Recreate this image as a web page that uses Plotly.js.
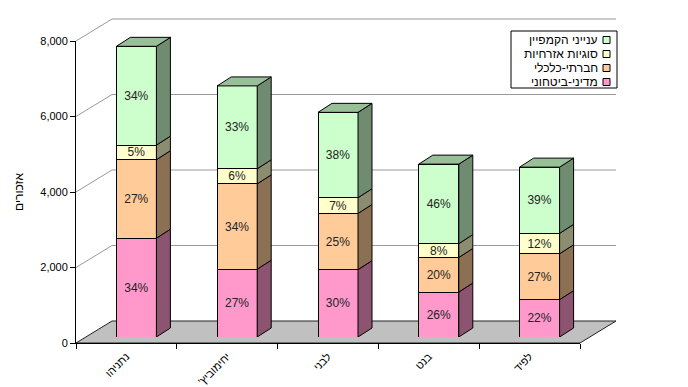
<!DOCTYPE html>
<html><head><meta charset="utf-8">
<script src="https://cdn.plot.ly/plotly-3.0.1.min.js"></script>
<style>html,body{margin:0;padding:0;background:#fff}#chart{width:688px;height:387px}</style>
</head><body><div id="chart"></div>
<script>
// ---- data ----
const candidates = ["נתניהו", "יחימוביץ'\u200F", "לבני", "בנט", "לפיד"];
const seriesNames = ["מדיני-ביטחוני", "חברתי-כלכלי", "סוגיות אזרחיות", "ענייני הקמפיין"];
const securityVals = [2618, 1796, 1785, 1191, 990];
const socioEconVals = [2079, 2261, 1488, 916, 1215];
const civilVals = [385, 399, 417, 366, 540];
const campaignVals = [2618, 2195, 2261, 2107, 1755];
const yTickVals = [0, 2000, 4000, 6000, 8000];
const yTitle = "אזכורים";

// ---- styles ----
const frontColors = ["#FF99CC", "#FFCC99", "#FFFFCC", "#CCFFCC"];
const FONT = "Liberation Sans, Arial, sans-serif";

// ---- geometry (pixels) ----
const PL = 76, PR = 616, PT = 19, PB = 343;
const plotW = PR - PL, plotH = PB - PT;
const FRONT_W = 504, FRONT_H = 302;
const DEPTH_X = 36, DEPTH_Y = 22;
const BAR_DX = 10, BAR_DY = 6;
const BAR_DEPTH_X = 14, BAR_DEPTH_Y = 9;
const BAR_W_PX = 40;
const YMAX = 8000;
const nCat = candidates.length;
const pxPerX = FRONT_W / nCat, pxPerY = FRONT_H / YMAX;
const fx = px => (px - PL) / plotW;
const fy = py => (PB - py) / plotH;

function shade(hex, f) {
  const n = parseInt(hex.slice(1), 16);
  const r = Math.round(((n >> 16) & 255) * f), g = Math.round(((n >> 8) & 255) * f), b = Math.round((n & 255) * f);
  return `rgb(${r},${g},${b})`;
}

const series = [securityVals, socioEconVals, civilVals, campaignVals];
const totals = candidates.map((_, i) => series.reduce((s, arr) => s + arr[i], 0));
const xIdx = candidates.map((_, i) => i);
const barW = BAR_W_PX / pxPerX;

const traces = [];
// invisible trace to build the front category axis
traces.push({type: 'scatter', x: candidates, y: totals.map(() => 0), xaxis: 'x', yaxis: 'y',
  mode: 'markers', marker: {opacity: 0}, hoverinfo: 'skip', showlegend: false});

series.forEach((vals, k) => {
  traces.push({
    type: 'bar', x: xIdx, y: vals, xaxis: 'x2', yaxis: 'y2', name: seriesNames[k],
    width: barW, marker: {color: frontColors[k], line: {color: '#000', width: 1}},
    text: vals.map((v, i) => Math.round(v / totals[i] * 100) + '%'),
    textposition: 'inside', insidetextanchor: 'middle', textangle: 0, constraintext: 'none',
    textfont: {family: FONT, size: 12, color: '#222'}, hoverinfo: 'skip', showlegend: false
  });
});

const shapes = [];
// floor
shapes.push({type: 'path', xref: 'paper', yref: 'paper', layer: 'below',
  path: `M ${fx(PL)},${fy(PB)} L ${fx(PL + FRONT_W)},${fy(PB)} L ${fx(PL + FRONT_W + DEPTH_X)},${fy(PB - DEPTH_Y)} L ${fx(PL + DEPTH_X)},${fy(PB - DEPTH_Y)} Z`,
  fillcolor: '#C0C0C0', line: {color: '#222', width: 1}});
// back wall gridlines + diagonals from front axis
yTickVals.forEach(v => {
  if (v === 0) return;
  const yF = PB - v * pxPerY;
  shapes.push({type: 'line', xref: 'paper', yref: 'paper', layer: 'below',
    x0: fx(PL), y0: fy(yF), x1: fx(PL + DEPTH_X), y1: fy(yF - DEPTH_Y),
    line: {color: '#999', width: 1}});
  shapes.push({type: 'line', xref: 'paper', yref: 'paper', layer: 'below',
    x0: fx(PL + DEPTH_X), y0: fy(yF - DEPTH_Y), x1: fx(PR), y1: fy(yF - DEPTH_Y),
    line: {color: '#999', width: 1}});
});
// 3D faces of bars
const ddx = BAR_DEPTH_X / pxPerX, ddy = BAR_DEPTH_Y / pxPerY;
xIdx.forEach(i => {
  let base = 0;
  const L = i - barW / 2, R = i + barW / 2;
  series.forEach((vals, k) => {
    const top = base + vals[i];
    shapes.push({type: 'path', xref: 'x2', yref: 'y2', layer: 'above',
      path: `M ${R},${base} L ${R + ddx},${base + ddy} L ${R + ddx},${top + ddy} L ${R},${top} Z`,
      fillcolor: shade(frontColors[k], 0.55), line: {color: '#000', width: 1}});
    if (k === series.length - 1) {
      shapes.push({type: 'path', xref: 'x2', yref: 'y2', layer: 'above',
        path: `M ${L},${top} L ${L + ddx},${top + ddy} L ${R + ddx},${top + ddy} L ${R},${top} Z`,
        fillcolor: shade(frontColors[k], 0.75), line: {color: '#000', width: 1}});
    }
    base = top;
  });
});

// legend (right-to-left: swatch on the right)
const annotations = [];
const legRows = [40, 54, 68, 82];
shapes.push({type: 'rect', xref: 'paper', yref: 'paper', layer: 'above',
  x0: fx(511), x1: fx(617), y0: fy(88), y1: fy(31), fillcolor: '#fff', line: {color: '#000', width: 1}});
[3, 2, 1, 0].forEach((k, r) => {
  const cy = legRows[r];
  shapes.push({type: 'rect', xref: 'paper', yref: 'paper', layer: 'above',
    x0: fx(603), x1: fx(610), y0: fy(cy + 3.5), y1: fy(cy - 3.5),
    fillcolor: frontColors[k], line: {color: '#000', width: 1}});
  annotations.push({xref: 'paper', yref: 'paper', x: fx(600), y: fy(cy), xanchor: 'right', yanchor: 'middle',
    text: seriesNames[k], showarrow: false, font: {family: FONT, size: 12, color: '#000'}});
});

const layout = {
  width: 688, height: 387,
  margin: {l: PL, r: 688 - PR, t: PT, b: 387 - PB, pad: 0},
  paper_bgcolor: '#fff', plot_bgcolor: 'rgba(0,0,0,0)',
  barmode: 'stack', showlegend: false,
  font: {family: FONT, size: 11, color: '#000'},
  xaxis: {type: 'category', domain: [0, FRONT_W / plotW], range: [-0.5, nCat - 0.5],
    tickson: 'boundaries', ticks: 'outside', ticklen: 5, tickcolor: '#000',
    showline: true, linecolor: '#000', linewidth: 1, showgrid: false, zeroline: false,
    tickangle: -45, ticklabelstandoff: 2, tickfont: {family: FONT, size: 11, color: '#000'}, fixedrange: true},
  yaxis: {domain: [0, FRONT_H / plotH], range: [0, YMAX], tickvals: yTickVals, tickformat: ',d',
    ticks: 'outside', ticklen: 5, tickcolor: '#000', showline: true, linecolor: '#000', linewidth: 1,
    showgrid: false, zeroline: false, tickfont: {family: FONT, size: 11, color: '#000'},
    title: {text: yTitle, font: {family: FONT, size: 12, color: '#000'}, standoff: 14}},
  xaxis2: {domain: [BAR_DX / plotW, (FRONT_W + BAR_DX) / plotW], range: [-0.5, nCat - 0.5],
    anchor: 'y2', visible: false},
  yaxis2: {domain: [BAR_DY / plotH, (FRONT_H + BAR_DY) / plotH], range: [0, YMAX],
    anchor: 'x2', visible: false},
  shapes: shapes, annotations: annotations
};

Plotly.newPlot('chart', traces, layout, {staticPlot: true, displayModeBar: false});
</script></body></html>
